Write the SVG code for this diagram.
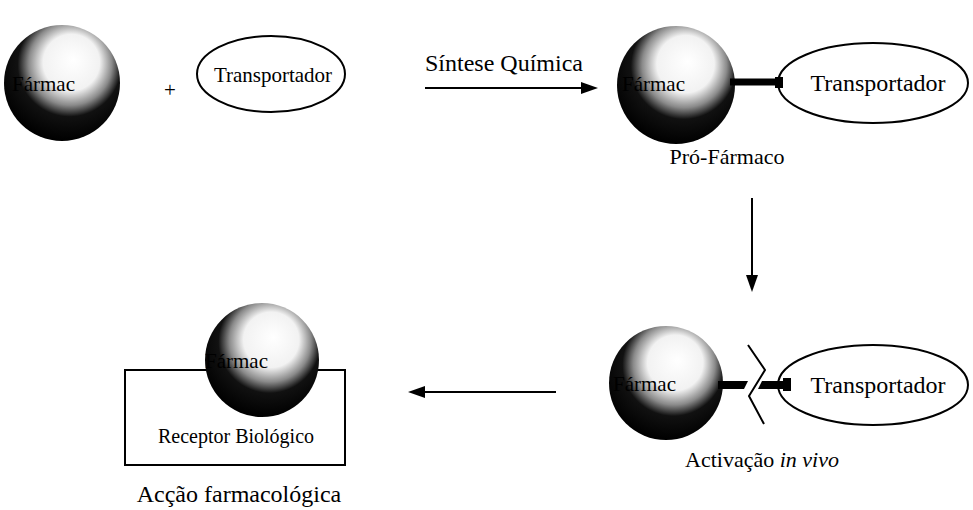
<svg xmlns="http://www.w3.org/2000/svg" width="973" height="510" viewBox="0 0 973 510">
<defs>
<radialGradient id="sph" cx="0.55" cy="0.36" r="0.64" fx="0.6" fy="0.3">
<stop offset="0" stop-color="#fff"/>
<stop offset="0.38" stop-color="#f2f2f2"/>
<stop offset="0.56" stop-color="#8a8a8a"/>
<stop offset="0.7" stop-color="#111"/>
<stop offset="1" stop-color="#000"/>
</radialGradient>
</defs>
<style>
text{font-family:"Liberation Serif","Times New Roman",serif;fill:#000}
.t{font-size:21px}
.m{text-anchor:middle}
.sph{fill:url(#sph)}
.ell{fill:#fff;stroke:#000;stroke-width:2}
.ln{stroke:#000;stroke-width:2;fill:none}
.bar{stroke:#000;stroke-width:7;fill:none}
.ah{fill:#000}
</style>
<rect width="973" height="510" fill="#fff"/>
<g id="connectors">
<path class="ln" d="M425,88 H586"/>
<path class="ah" d="M581,82 L598,88 L581,94 Z"/>
<path class="ln" d="M752,198 V280"/>
<path class="ah" d="M746,275 L752,292 L758,275 Z"/>
<path class="ln" d="M556,392 H420"/>
<path class="ah" d="M425,386 L408,392 L425,398 Z"/>
</g>
<g id="farmaco1">
<circle class="sph" cx="62" cy="83" r="58"/>
<text class="t" x="12" y="91">Fármac</text>
</g>
<g id="plus"><text class="t m" x="170" y="97">+</text></g>
<g id="transportador1">
<ellipse class="ell" cx="271" cy="74" rx="74" ry="38"/>
<text class="t m" x="273" y="82">Transportador</text>
</g>
<g id="sintese"><text x="425" y="71" font-size="24">Síntese Química</text></g>
<g id="profarmaco">
<circle class="sph" cx="676" cy="85" r="59"/>
<ellipse class="ell" cx="873" cy="83" rx="95" ry="40"/>
<path class="bar" d="M730,82 H780"/>
<rect x="775" y="77" width="8" height="11" fill="#000"/>
<text class="t" x="622" y="91">Fármac</text>
<text class="m" x="878" y="91" font-size="24">Transportador</text>
<text class="m" x="727" y="164" font-size="22">Pró-Fármaco</text>
</g>
<g id="activacao">
<circle class="sph" cx="666" cy="383" r="57"/>
<ellipse class="ell" cx="873" cy="385" rx="95" ry="40"/>
<path d="M718,381 H748 L744,389 H718 Z" fill="#000"/>
<path d="M762,381 H791 V389 H758 Z" fill="#000"/>
<rect x="783" y="378" width="8" height="13" fill="#000"/>
<polyline class="ln" points="748,345 765,370 749,396 764,424"/>
<text class="t" x="613" y="391">Fármac</text>
<text class="m" x="878" y="393" font-size="24">Transportador</text>
<text class="m" x="762" y="467" font-size="22">Activação <tspan font-style="italic">in vivo</tspan></text>
</g>
<g id="receptor">
<rect x="125" y="370" width="220" height="95" fill="#fff" stroke="#000" stroke-width="2"/>
<circle class="sph" cx="262" cy="360" r="57"/>
<text class="t" x="205" y="368">Fármac</text>
<text class="m" x="236" y="443" font-size="20">Receptor Biológico</text>
<text class="m" x="239" y="502" font-size="24">Acção farmacológica</text>
</g>
</svg>
